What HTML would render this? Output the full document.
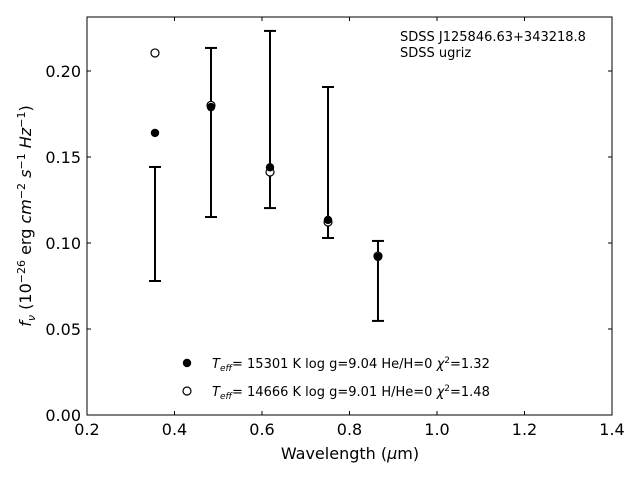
<!DOCTYPE html>
<html><head><meta charset="utf-8"><style>
body{margin:0;background:#fff}
svg{font-family:"DejaVu Sans","Liberation Sans",sans-serif;display:block}
</style></head><body>
<svg id="chart" width="640" height="480" xmlns="http://www.w3.org/2000/svg">
<rect width="640" height="480" fill="#fff"/>
<g id="plot"></g>
<text x="400" y="41" font-size="13">SDSS J125846.63+343218.8</text>
<text x="400" y="57" font-size="13">SDSS ugriz</text>
<circle cx="187" cy="363" r="4.2" fill="#000"/>
<text x="212" y="368" font-size="13"><tspan font-style="italic">T</tspan><tspan font-style="italic" font-size="9" dy="3">eff</tspan><tspan dy="-3">= 15301 K  log g=9.04  He/H=0  </tspan><tspan font-style="italic">χ</tspan><tspan font-size="9" dy="-5">2</tspan><tspan dy="5">=1.32</tspan></text>
<circle cx="187" cy="391" r="4" fill="#fff" stroke="#000" stroke-width="1.2"/>
<text x="212" y="396" font-size="13"><tspan font-style="italic">T</tspan><tspan font-style="italic" font-size="9" dy="3">eff</tspan><tspan dy="-3">= 14666 K  log g=9.01  H/He=0  </tspan><tspan font-style="italic">χ</tspan><tspan font-size="9" dy="-5">2</tspan><tspan dy="5">=1.48</tspan></text>
<text x="350" y="459" font-size="16" text-anchor="middle">Wavelength (<tspan font-style="italic">μ</tspan>m)</text>
<text transform="translate(31,216) rotate(-90)" font-size="16" text-anchor="middle"><tspan font-style="italic">f</tspan><tspan font-style="italic" font-size="11" dy="4">ν</tspan><tspan dy="-4"> (10</tspan><tspan font-size="11" dy="-6">−26</tspan><tspan dy="6"> erg </tspan><tspan font-style="italic">cm</tspan><tspan font-size="11" dy="-6">−2</tspan><tspan dy="6"> </tspan><tspan font-style="italic">s</tspan><tspan font-size="11" dy="-6">−1</tspan><tspan dy="6"> </tspan><tspan font-style="italic">Hz</tspan><tspan font-size="11" dy="-6">−1</tspan><tspan dy="6">)</tspan></text>
</svg>
<script>
const wavelengths=[0.3554,0.4834,0.6183,0.7509,0.8651];
const fitFilled=[0.164,0.179,0.144,0.1134,0.0919];
const fitOpen=[0.2105,0.180,0.1413,0.1122,0.0924];
const errLow=[0.0779,0.1151,0.1203,0.1029,0.0547];
const errHigh=[0.1442,0.2134,0.2233,0.1907,0.1012];
const xTicks=[0.2,0.4,0.6,0.8,1.0,1.2,1.4];
const yTicks=[0.00,0.05,0.10,0.15,0.20];
const X0=87,X1=612,Y0=415,Y1=17;
const xs=v=>X0+(v-0.2)/1.2*(X1-X0);
const ys=v=>Y0-v*1720;
const NS="http://www.w3.org/2000/svg";
const g=document.getElementById('plot');
function mk(t,a,txt){const e=document.createElementNS(NS,t);for(const k in a)e.setAttribute(k,a[k]);if(txt!==undefined)e.textContent=txt;g.appendChild(e);return e;}
let e;
e=mk('rect',{x:X0,y:Y1,width:X1-X0,height:Y0-Y1,fill:'none',stroke:'#000','stroke-width':1});


xTicks.forEach(t=>{const x=xs(t);
 e=mk('line',{x1:x,x2:x,y1:Y0,y2:Y0-4,stroke:'#000'});
 
 
 e=mk('line',{x1:x,x2:x,y1:Y1,y2:Y1+4,stroke:'#000'});
 
 
 e=mk('text',{x:x,y:Y0+20,'text-anchor':'middle','font-size':16},t.toFixed(1));
 
 
});
yTicks.forEach(t=>{const y=ys(t);
 e=mk('line',{x1:X0,x2:X0+4,y1:y,y2:y,stroke:'#000'});
 
 
 e=mk('line',{x1:X1,x2:X1-4,y1:y,y2:y,stroke:'#000'});
 
 
 e=mk('text',{x:X0-6,y:y+6,'text-anchor':'end','font-size':16},t.toFixed(2));
 
 
});
wavelengths.forEach((w,i)=>{const x=xs(w);
 e=mk('line',{x1:x,x2:x,y1:ys(errLow[i]),y2:ys(errHigh[i]),stroke:'#000','stroke-width':2});
 
 
 [errLow[i],errHigh[i]].forEach(v=>{
  e=mk('line',{x1:x-6,x2:x+6,y1:ys(v),y2:ys(v),stroke:'#000','stroke-width':2});
  
  
 });
 e=mk('circle',{cx:x,cy:ys(fitOpen[i]),r:4,fill:'#fff',stroke:'#000','stroke-width':1.2});
 
 
 e=mk('circle',{cx:x,cy:ys(fitFilled[i]),r:4.2,fill:'#000'});
 
 
});
</script>
</body></html>
